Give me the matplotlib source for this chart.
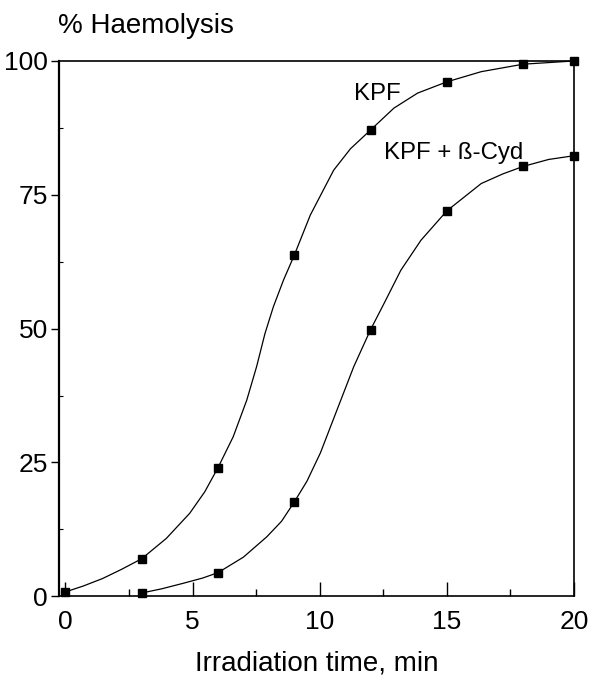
import matplotlib
matplotlib.use('Agg')
import matplotlib.pyplot as plt

plt.rcParams['font.family'] = ['Liberation Sans', 'DejaVu Sans']

## Measured points (square markers)
kpf_t = [0, 3, 6, 9, 12, 15, 18, 20]  # Irradiation time [min]
kpf_h = [0.8, 7.0, 24.0, 63.7, 87.1, 96.1, 99.4, 100.0]  # % haemolysis, KPF
cyd_t = [3, 6, 9, 12, 15, 18, 20]
cyd_h = [0.6, 4.4, 17.6, 49.8, 72.0, 80.3, 82.3]  # % haemolysis, KPF + beta-Cyd

## Smooth hand-drawn curves
kpf_curve_t = [0, 0.7, 1.46, 2.2, 3, 3.97, 4.89, 5.48, 6, 6.6, 7.13, 7.52, 7.85,
               8.18, 8.58, 9, 9.63, 10.55, 11.21, 12, 12.92, 13.85, 15, 16.35,
               18, 19.0, 20]
kpf_curve_h = [0.8, 1.9, 3.3, 5.0, 7.0, 10.8, 15.5, 19.5, 24.0, 29.8, 36.6, 42.9,
               49.1, 54.1, 59.1, 63.7, 71.2, 79.6, 83.6, 87.1, 91.2, 94.0, 96.1,
               98.0, 99.4, 99.7, 100.0]
cyd_curve_t = [3, 3.8, 4.62, 5.4, 6, 7.0, 7.92, 8.5, 9, 9.5, 10.03, 10.68, 11.34,
               12, 12.53, 13.19, 13.98, 15, 16.35, 17.2, 18, 19.0, 20]
cyd_curve_h = [0.6, 1.4, 2.4, 3.4, 4.4, 7.3, 11.1, 14.0, 17.6, 21.5, 26.8, 34.8,
               42.9, 49.8, 54.7, 60.9, 66.5, 72.0, 77.1, 78.9, 80.3, 81.6, 82.3]

fig = plt.figure(figsize=(5.91, 6.76), dpi=100)
ax = fig.add_axes([0.0998, 0.118, 0.8715, 0.7918])

ax.plot(kpf_curve_t, kpf_curve_h, color='black', lw=0.9, clip_on=False)
ax.plot(cyd_curve_t, cyd_curve_h, color='black', lw=0.9, clip_on=False)
ax.plot(kpf_t, kpf_h, 's', color='black', ms=5.5, clip_on=False, zorder=5)
ax.plot(cyd_t, cyd_h, 's', color='black', ms=5.5, clip_on=False, zorder=5)

ax.text(11.34, 93.8, 'KPF', fontsize=17.3, ha='left', va='center')
ax.text(12.53, 82.8, 'KPF + ß-Cyd', fontsize=17.3, ha='left', va='center')

ax.set_xlim(-0.25, 20)
ax.set_ylim(0, 100)
ax.set_xticks([0, 5, 10, 15, 20])
ax.set_xticks([2.5, 7.5, 12.5, 17.5], minor=True)
ax.set_yticks([0, 25, 50, 75, 100])
ax.set_yticks([12.5, 37.5, 62.5, 87.5], minor=True)

ax.tick_params(axis='x', which='major', direction='in', length=10, width=1.0,
               labelsize=19, pad=10)
ax.tick_params(axis='x', which='minor', direction='in', length=5, width=1.0)
ax.tick_params(axis='y', which='major', direction='out', length=6, width=1.0,
               labelsize=19, pad=2)
ax.tick_params(axis='y', which='minor', direction='in', length=3, width=0.8)

for sp in ax.spines.values():
    sp.set_linewidth(1.2)
ax.spines['left'].set_linewidth(1.6)

ax.set_xlabel('Irradiation time, min', fontsize=20, labelpad=12)
fig.text(58/591, 1 - 26/676, '% Haemolysis', fontsize=20, ha='left', va='center')

fig.savefig('out.png', dpi=100)
